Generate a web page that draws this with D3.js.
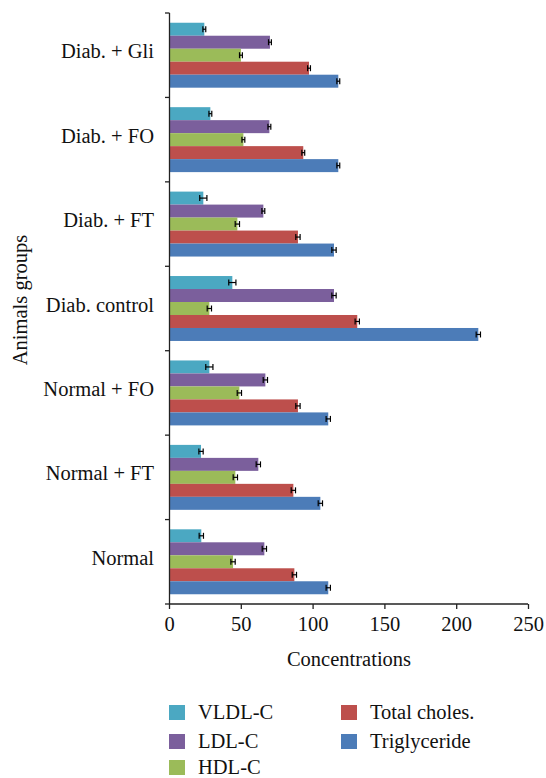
<!DOCTYPE html>
<html><head><meta charset="utf-8">
<script src="https://cdn.jsdelivr.net/npm/d3@7"></script>
<style>body{margin:0;background:#fff}svg{display:block}</style>
</head><body>
<script>
const groups = ["Diab. + Gli","Diab. + FO","Diab. + FT","Diab. control","Normal + FO","Normal + FT","Normal"];
const seriesNames = ["VLDL-C","LDL-C","HDL-C","Total choles.","Triglyceride"];
const seriesColors = ["#4BA8C2","#7B5F9C","#9BBB59","#BD4F4C","#4C7CB8"];
const vldl = [24.6, 28.8, 23.9, 44.1, 28.1, 22.3, 22.5];
const ldl  = [70.3, 69.9, 65.7, 114.9, 67.1, 62.2, 66.4];
const hdl  = [50.1, 51.8, 47.6, 28.1, 49.0, 46.2, 44.6];
const tc   = [97.5, 93.5, 89.8, 131.1, 89.8, 86.6, 87.3];
const tg   = [117.9, 117.9, 114.9, 215.4, 110.9, 105.4, 110.9];
const vldlErr = [1.0, 1.0, 2.5, 2.5, 2.5, 1.5, 1.5];
const ldlErr  = [1.0, 1.0, 1.0, 1.5, 1.5, 1.5, 1.5];
const hdlErr  = [1.0, 1.0, 1.5, 1.5, 1.5, 1.5, 1.5];
const tcErr   = [1.0, 1.0, 1.5, 1.5, 1.5, 1.5, 1.5];
const tgErr   = [1.0, 1.0, 1.5, 1.5, 1.5, 1.5, 1.5];
const xTicks = [0, 50, 100, 150, 200, 250];

const values = [vldl, ldl, hdl, tc, tg];
const errs = [vldlErr, ldlErr, hdlErr, tcErr, tgErr];
const FONT = "Liberation Serif";

const W = 546, H = 778;
const svg = d3.select("body").append("svg").attr("width", W).attr("height", H);
const x = d3.scaleLinear().domain([0, 250]).range([169, 528]);
const y = d3.scaleBand().domain(groups).range([13, 604]).padding(0);
const ys = d3.scaleBand().domain(seriesNames).range([0, y.bandwidth()]).paddingInner(0).paddingOuter(0.75);

function txt(sel) { return sel.attr("font-family", FONT).attr("fill", "#111").attr("font-size", 20.5); }

const g = svg.append("g");
groups.forEach((grp, gi) => {
  seriesNames.forEach((s, si) => {
    const v = values[si][gi], e = errs[si][gi];
    const y0 = y(grp) + ys(s);
    g.append("rect").attr("x", x(0)).attr("y", y0).attr("width", x(v) - x(0)).attr("height", ys.bandwidth())
      .attr("fill", seriesColors[si]);
    const cy = y0 + ys.bandwidth() / 2;
    g.append("line").attr("x1", x(v - e)).attr("x2", x(v + e)).attr("y1", cy).attr("y2", cy).attr("stroke", "#000").attr("stroke-width", 1.2);
    [v - e, v + e].forEach(xx => g.append("line").attr("x1", x(xx)).attr("x2", x(xx)).attr("y1", cy - 3).attr("y2", cy + 3).attr("stroke", "#000").attr("stroke-width", 1.2));
  });
});

// Y axis
const yAxisG = svg.append("g");
yAxisG.append("line").attr("x1", 169.5).attr("x2", 169.5).attr("y1", 13).attr("y2", 604).attr("stroke", "#222").attr("stroke-width", 1.3);
const bounds = groups.map(gr => y(gr)).concat([604]);
bounds.forEach(b => yAxisG.append("line").attr("x1", 165).attr("x2", 169.5).attr("y1", b).attr("y2", b).attr("stroke", "#222").attr("stroke-width", 1.3));
groups.forEach(gr => txt(yAxisG.append("text")).attr("x", 154).attr("y", y(gr) + y.bandwidth() / 2 + 3)
  .attr("text-anchor", "end").text(gr));

// X axis
const xAxis = d3.axisBottom(x).tickValues(xTicks).tickSize(5).tickPadding(7).tickFormat(d3.format("d"));
const xg = svg.append("g").attr("transform", "translate(0,604)").call(xAxis).attr("font-family", FONT);
xg.select(".domain").attr("stroke", "#222").attr("stroke-width", 1.3).attr("d", "M169,0H528");
xg.selectAll(".tick line").attr("stroke", "#222").attr("stroke-width", 1.3);
txt(xg.selectAll(".tick text"));

txt(svg.append("text")).attr("x", 349).attr("y", 666).attr("text-anchor", "middle").text("Concentrations");
txt(svg.append("text")).attr("transform", "translate(27,300) rotate(-90)").attr("text-anchor", "middle").text("Animals groups");

// Legend
const legendPos = [[169, 712], [169, 741], [169, 767], [341, 712], [341, 741]];
seriesNames.forEach((s, i) => {
  const [lx, ly] = legendPos[i];
  svg.append("rect").attr("x", lx).attr("y", ly - 7).attr("width", 16).attr("height", 15).attr("fill", seriesColors[i]);
  txt(svg.append("text")).attr("x", lx + 29).attr("y", ly + 7).text(s);
});
</script>
</body></html>
